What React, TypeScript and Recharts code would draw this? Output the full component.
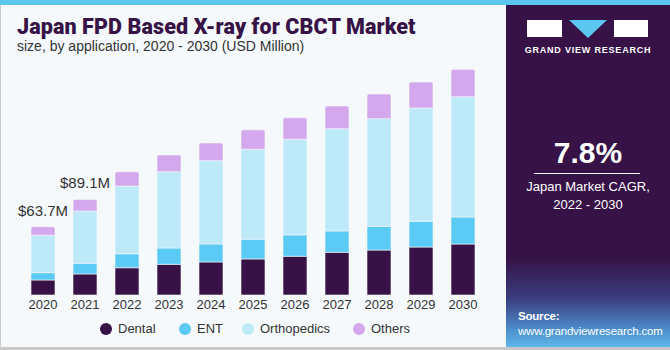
import { BarChart, Bar, XAxis, YAxis, LabelList } from "recharts"

const years = ["2020", "2021", "2022", "2023", "2024", "2025", "2026", "2027", "2028", "2029", "2030"]
const dental = [14.0, 19.6, 25.4, 28.6, 30.8, 33.6, 36.1, 39.8, 41.9, 44.7, 47.5]
const ent = [6.8, 10.0, 13.0, 15.2, 16.8, 18.4, 19.9, 19.9, 22.1, 24.0, 25.2]
const orthopedics = [34.9, 48.7, 63.1, 71.1, 77.6, 83.9, 89.2, 95.3, 100.3, 105.6, 112.1]
const others = [8.0, 10.8, 13.3, 15.6, 16.5, 18.0, 19.9, 21.2, 23.0, 24.2, 25.5]
const totalLabels = ["$63.7M", "$89.1M"]

const series = [
  { key: "dental", name: "Dental", color: "#371247" },
  { key: "ent", name: "ENT", color: "#5bcaf5" },
  { key: "orthopedics", name: "Orthopedics", color: "#bee9f9" },
  { key: "others", name: "Others", color: "#d4a8ec" },
]

const data = years.map((year, i) => ({
  year,
  dental: dental[i],
  ent: ent[i],
  orthopedics: orthopedics[i],
  others: others[i],
  label: totalLabels[i] ?? "",
}))

const TotalLabel = (props: any) => {
  const { x, y, value } = props
  if (!value) return null
  return (
    <text x={x + 12} y={y - 11} textAnchor="middle" fontSize={15} fill="#333" fontFamily="Liberation Sans, Arial">
      {value}
    </text>
  )
}

// legend dot centres
const legendX = [106, 185, 248, 359]

export default function App() {
  return (
    <div style={{ position: "fixed", left: 0, top: 0, width: 670, height: 350, background: "#f5f9fc", overflow: "hidden" }}>
      <div style={{ position: "absolute", left: 0, top: 0, width: 670, height: 5, background: "#5bc6ee" }} />
      <div style={{ position: "absolute", left: 0, top: 5, width: 1, height: 342, background: "#c8c8c8" }} />
      <div style={{ position: "absolute", left: 0, top: 347, width: 670, height: 3, background: "#c8c8c8" }} />
      <div style={{ position: "absolute", left: 17, top: 14, fontFamily: "Roboto, Arial", fontWeight: 900, fontSize: 21.5, color: "#371247", letterSpacing: 0.1 }}>
        Japan FPD Based X-ray for CBCT Market
      </div>
      <div style={{ position: "absolute", left: 17, top: 38, fontFamily: "Liberation Sans, Arial", fontSize: 14, color: "#333" }}>
        size, by application, 2020 - 2030 (USD Million)
      </div>

      <div style={{ position: "absolute", left: 0, top: 0 }}>
        <BarChart width={506} height={350} data={data} margin={{ top: 60, right: 22, left: 22, bottom: 0 }} barSize={24}>
          <XAxis dataKey="year" axisLine={false} tickLine={false} height={55} tick={{ fontSize: 13, fill: "#333", fontFamily: "Liberation Sans, Arial" }} dy={-3} />
          <YAxis hide domain={[0, 219]} />
          {series.map((s) => (
            <Bar
              key={s.key}
              dataKey={s.key}
              name={s.name}
              stackId="a"
              fill={s.color}
              stroke="#f5f9fc"
              strokeWidth={0.6}
              radius={s.key === "others" ? [2, 2, 0, 0] : 0}
              isAnimationActive={false}
            >
              {s.key === "others" && <LabelList dataKey="label" content={<TotalLabel />} />}
            </Bar>
          ))}
        </BarChart>
      </div>

      {series.map((s, i) => (
        <div key={s.key} style={{ position: "absolute", left: legendX[i] - 6, top: 321, display: "flex", alignItems: "center" }}>
          <span style={{ width: 12, height: 12, borderRadius: 6, background: s.color, display: "inline-block" }} />
          <span style={{ marginLeft: 6, fontSize: 13, color: "#333", fontFamily: "Liberation Sans, Arial" }}>{s.name}</span>
        </div>
      ))}

      <div
        style={{
          position: "absolute",
          left: 506,
          top: 5,
          width: 164,
          height: 342,
          background: "linear-gradient(180deg, #371247 0%, #371247 74%, #3a3f80 86%, #4d8fce 95%, #5fb6e8 100%)",
          fontFamily: "Liberation Sans, Arial",
          color: "#fff",
        }}
      >
        <div style={{ position: "absolute", left: 21, top: 15, width: 35, height: 17, background: "#fff" }} />
        <svg style={{ position: "absolute", left: 63, top: 15 }} width={38} height={18}>
          <polygon points="0,0 38,0 19,18" fill="#5bc6ee" />
        </svg>
        <div style={{ position: "absolute", left: 108, top: 15, width: 34, height: 17, background: "#fff" }} />
        <div style={{ position: "absolute", left: 0, width: 164, top: 40, textAlign: "center", fontSize: 9, fontWeight: 700, letterSpacing: 0.8 }}>
          GRAND VIEW RESEARCH
        </div>
        <div style={{ position: "absolute", left: 0, width: 164, top: 131, textAlign: "center", fontSize: 30, fontWeight: 700 }}>7.8%</div>
        <div style={{ position: "absolute", left: 28, top: 168, width: 106, height: 1, background: "#fff" }} />
        <div style={{ position: "absolute", left: 0, width: 164, top: 173, textAlign: "center", fontSize: 13, lineHeight: "18px" }}>
          Japan Market CAGR,
          <br />
          2022 - 2030
        </div>
        <div style={{ position: "absolute", left: 12, top: 304, fontSize: 11.5, lineHeight: "15px", letterSpacing: -0.2 }}>
          <b>Source:</b>
          <br />
          www.grandviewresearch.com
        </div>
      </div>
    </div>
  )
}
